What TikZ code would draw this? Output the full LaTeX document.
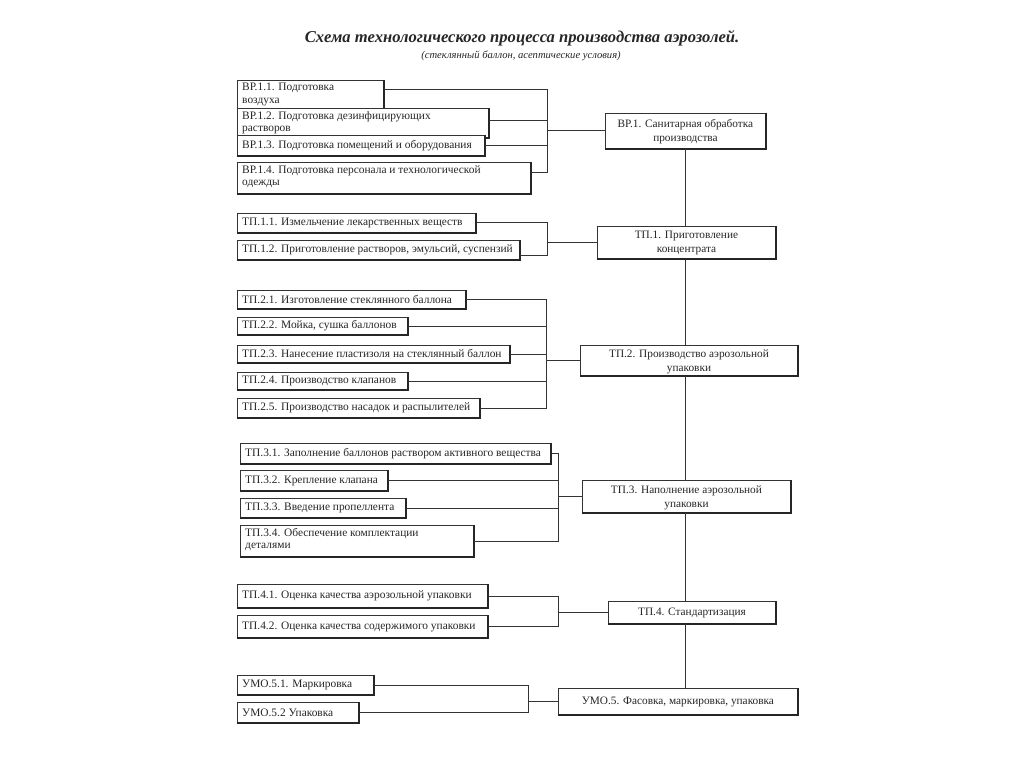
\documentclass[tikz,border=0pt]{standalone}
\usepackage{fontspec}
\setmainfont{Liberation Serif}
\tikzset{
  box/.style={draw=black!80, fill=white, line width=0.9pt, inner sep=0pt},
  txt/.style={inner sep=0pt, text=black!85, font=\fontsize{11.4}{12.5}\selectfont},
  rtxt/.style={inner sep=0pt, text=black!85, font=\fontsize{11.3}{14}\selectfont},
  conn/.style={draw=black!80, line width=0.9pt},
  shade edge/.style={draw=black!85, line width=1.3pt}
}
% left box, text vertically centred
\newcommand\lbx[6]{%
  \pgfmathsetmacro\bw{#4-#2}\pgfmathsetmacro\bh{#5-#3}%
  \node[box, minimum width=\bw pt, minimum height=\bh pt, anchor=north west] (#1) at (#2,#3) {};
  \draw[shade edge] (#1.north east) -- (#1.south east) -- (#1.south west);
  \node[txt, anchor=west, align=left] (#1t) at ([xshift=5pt]#1.west) {#6};}
% left box, text from the top
\newcommand\lbxtop[6]{%
  \pgfmathsetmacro\bw{#4-#2}\pgfmathsetmacro\bh{#5-#3}%
  \node[box, minimum width=\bw pt, minimum height=\bh pt, anchor=north west] (#1) at (#2,#3) {};
  \draw[shade edge] (#1.north east) -- (#1.south east) -- (#1.south west);
  \node[txt, anchor=north west, align=left] (#1t) at ([xshift=5pt,yshift=-3pt]#1.north west) {#6};}
% right box, centred text
\newcommand\rbx[6]{%
  \pgfmathsetmacro\bw{#4-#2}\pgfmathsetmacro\bh{#5-#3}%
  \node[box, minimum width=\bw pt, minimum height=\bh pt, anchor=north west] (#1) at (#2,#3) {};
  \draw[shade edge] (#1.north east) -- (#1.south east) -- (#1.south west);
  \node[rtxt, align=center] (#1t) at ([yshift=-1pt]#1.center) {#6};}
\begin{document}
\begin{tikzpicture}[x=1pt,y=-1pt]
\useasboundingbox (0,0) rectangle (1024,767);
\fill[white] (0,0) rectangle (1024,767);

\node[inner sep=0pt, text=black!85, font=\fontsize{16.6}{18}\selectfont\bfseries\itshape] (title) at (522,38) {Схема технологического процесса производства аэрозолей.};
\node[inner sep=0pt, text=black!85, font=\fontsize{10.6}{12}\selectfont\itshape] (sub) at (521,56) {(стеклянный баллон, асептические условия)};

% ---------- BP.1
\lbxtop{b11}{237}{80}{383}{110}{ВР.1.1. Подготовка\\воздуха}
\lbxtop{b12}{237}{108}{488}{137}{ВР.1.2. Подготовка дезинфицирующих\\растворов}
\lbx{b13}{237}{135}{484}{155}{ВР.1.3. Подготовка помещений и оборудования}
\lbxtop{b14}{237}{162}{530}{193}{ВР.1.4. Подготовка персонала и технологической\\одежды}
\rbx{bp1}{605}{113}{765}{148}{ВР.1. Санитарная обработка\\производства}

% ---------- TP.1
\lbx{t11}{237}{213}{475}{232}{ТП.1.1. Измельчение лекарственных веществ}
\lbx{t12}{237}{240}{519}{259}{ТП.1.2. Приготовление растворов, эмульсий, суспензий}
\rbx{tp1}{597}{226}{775}{258}{ТП.1. Приготовление\\концентрата}

% ---------- TP.2
\lbx{t21}{237}{290}{465}{308}{ТП.2.1. Изготовление стеклянного баллона}
\lbx{t22}{237}{317}{407}{334}{ТП.2.2. Мойка, сушка баллонов}
\lbx{t23}{237}{345}{509}{362}{ТП.2.3. Нанесение пластизоля на стеклянный баллон}
\lbx{t24}{237}{372}{407}{389}{ТП.2.4. Производство клапанов}
\lbx{t25}{237}{398}{479}{417}{ТП.2.5. Производство насадок и распылителей}
\rbx{tp2}{580}{345}{797}{375}{ТП.2. Производство аэрозольной\\упаковки}

% ---------- TP.3
\lbx{t31}{240}{443}{550}{463}{ТП.3.1. Заполнение баллонов раствором активного вещества}
\lbx{t32}{240}{470}{387}{490}{ТП.3.2. Крепление клапана}
\lbx{t33}{240}{498}{405}{517}{ТП.3.3. Введение пропеллента}
\lbxtop{t34}{240}{525}{473}{556}{ТП.3.4. Обеспечение комплектации\\деталями}
\rbx{tp3}{582}{480}{790}{512}{ТП.3. Наполнение аэрозольной\\упаковки}

% ---------- TP.4
\lbx{t41}{237}{584}{487}{607}{ТП.4.1. Оценка качества аэрозольной упаковки}
\lbx{t42}{237}{615}{487}{637}{ТП.4.2. Оценка качества содержимого упаковки}
\rbx{tp4}{608}{601}{775}{623}{ТП.4. Стандартизация}

% ---------- UMO.5
\lbx{u51}{237}{675}{373}{694}{УМО.5.1. Маркировка}
\lbx{u52}{237}{702}{358}{722}{УМО.5.2 Упаковка}
\rbx{u5}{558}{688}{797}{714}{УМО.5. Фасовка, маркировка, упаковка}

% ---------- junction columns
\coordinate (j1) at (547,0);
\coordinate (j2) at (547,0);
\coordinate (j3) at (546,0);
\coordinate (j4) at (558,0);
\coordinate (j5) at (558,0);
\coordinate (j6) at (528,0);
\coordinate (m) at (685,0);
\coordinate (b11c) at ([yshift=-9pt]b11.north east);
\coordinate (b12c) at ([yshift=-12pt]b12.north east);
\coordinate (b14c) at ([yshift=-10pt]b14.north east);
\coordinate (t12c) at ([yshift=4pt]t12.south east);

% ---------- connectors BP.1
\draw[conn] (b11c) -| (j1 |- b14c) -- (b14c);
\draw[conn] (b12c) -- (b12c -| j1);
\draw[conn] (b13.east) -- (b13.east -| j1);
\draw[conn] (j1 |- bp1.west) -- (bp1.west);

% ---------- connectors TP.1
\draw[conn] (t11.east) -| (j2 |- t12c) -- (t12c);
\draw[conn] (j2 |- tp1.west) -- (tp1.west);

% ---------- connectors TP.2
\draw[conn] (t21.east) -| (j3 |- t25.east) -- (t25.east);
\draw[conn] (t22.east) -- (t22.east -| j3);
\draw[conn] (t23.east) -- (t23.east -| j3);
\draw[conn] (t24.east) -- (t24.east -| j3);
\draw[conn] (j3 |- tp2.west) -- (tp2.west);

% ---------- connectors TP.3
\draw[conn] (t31.east) -| (j4 |- t34.east) -- (t34.east);
\draw[conn] (t32.east) -- (t32.east -| j4);
\draw[conn] (t33.east) -- (t33.east -| j4);
\draw[conn] (j4 |- tp3.west) -- (tp3.west);

% ---------- connectors TP.4
\draw[conn] (t41.east) -| (j5 |- t42.east) -- (t42.east);
\draw[conn] (j5 |- tp4.west) -- (tp4.west);

% ---------- connectors UMO.5
\draw[conn] (u51.east) -| (j6 |- u52.east) -- (u52.east);
\draw[conn] (j6 |- u5.west) -- (u5.west);

% ---------- main spine
\draw[conn] (m |- bp1.south) -- (m |- tp1.north);
\draw[conn] (m |- tp1.south) -- (m |- tp2.north);
\draw[conn] (m |- tp2.south) -- (m |- tp3.north);
\draw[conn] (m |- tp3.south) -- (m |- tp4.north);
\draw[conn] (m |- tp4.south) -- (m |- u5.north);
\end{tikzpicture}
\end{document}
